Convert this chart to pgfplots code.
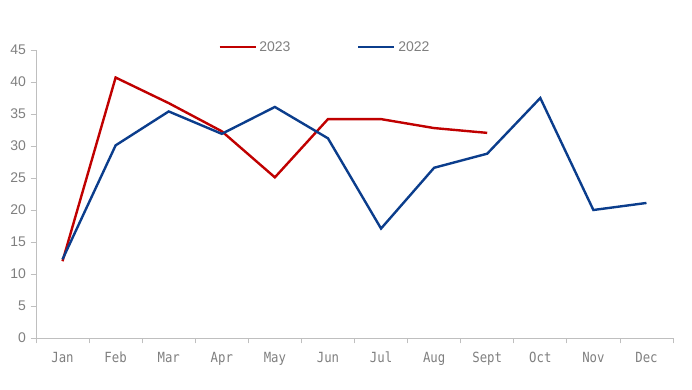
\documentclass[border=0pt]{standalone}
\usepackage{pgfplots}
\pgfplotsset{compat=1.18}
\usepackage{fontspec}
\setmainfont{Liberation Sans}
\newfontfamily\xfont{DejaVu Sans Mono}
\definecolor{cred}{HTML}{C00000}
\definecolor{cblue}{HTML}{0B3D8C}
\definecolor{tgray}{HTML}{7F7F7F}
\definecolor{agray}{HTML}{BFBFBF}
\begin{document}
\begin{tikzpicture}
\path[use as bounding box] (-27pt,-38.25pt) rectangle (492pt,253.5pt);
\begin{axis}[
  scale only axis,
  width=477.75pt, height=216pt,
  xmin=-0.5, xmax=11.5, ymin=0, ymax=45,
  /pgf/number format/assume math mode=true,
  axis lines=left,
  axis line style={-, agray, line width=0.6pt},
  xtick={0,...,11},
  xticklabels={Jan,Feb,Mar,Apr,May,Jun,Jul,Aug,Sept,Oct,Nov,Dec},
  major x tick style={draw=none},
  minor xtick={-0.5,0.5,...,11.5},
  minor x tick style={agray, line width=0.6pt},
  ytick={0,5,...,45},
  y tick style={agray, line width=0.6pt},
  tick align=outside,
  major tick length=4pt,
  minor tick length=4pt,
  x tick label style={font=\xfont\fontsize{10.5}{12}\selectfont, text=tgray, yshift=-3pt,
    text height=8pt, text depth=2pt, xscale=0.88},
  y tick label style={font=\fontsize{10.5}{12}\selectfont, text=tgray},
  legend columns=2,
  legend style={draw=none, fill=none, at={(0.454,1.01)}, anchor=center,
    font=\fontsize{10.5}{12}\selectfont, text=tgray,
    /tikz/every even column/.append style={column sep=48pt}},
  legend image code/.code={\draw[#1] (0pt,0pt) -- (27pt,0pt);},
]
\addplot[cred, line width=1.8pt] coordinates {
(0,12.0) (1,40.7) (2,36.7) (3,32.3) (4,25.1) (5,34.2) (6,34.2) (7,32.8) (8,32.05)};
\addlegendentry{2023}
\addplot[cblue, line width=1.8pt] coordinates {
(0,12.3) (1,30.1) (2,35.4) (3,31.9) (4,36.1) (5,31.2) (6,17.1) (7,26.6) (8,28.8) (9,37.5) (10,20.0) (11,21.1)};
\addlegendentry{2022}
\end{axis}
\end{tikzpicture}
\end{document}
